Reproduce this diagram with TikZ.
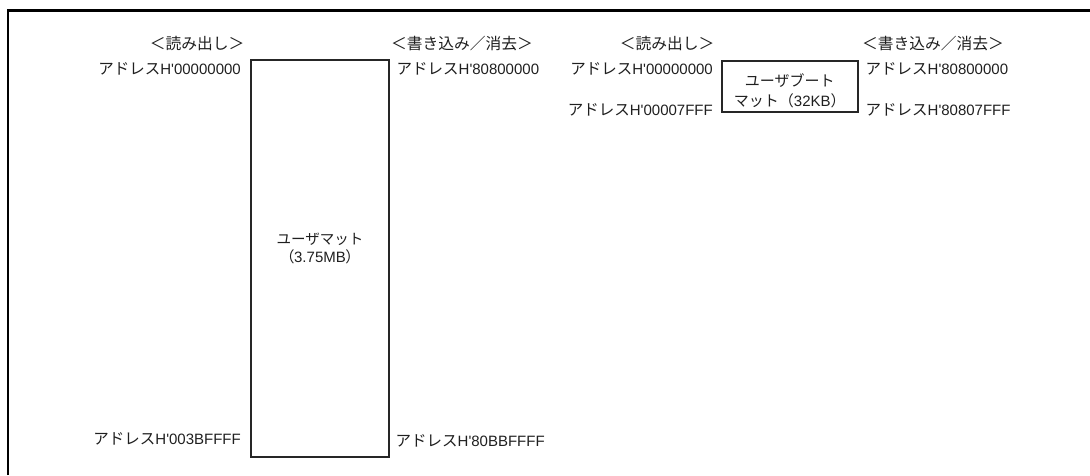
\documentclass[tikz,border=0pt]{standalone}
\usepackage{fontspec}
\setmainfont{Liberation Sans}
\newfontfamily\jp[Scale=1.033]{Noto Sans CJK JP}
\newfontfamily\jpp[RawFeature=+palt,Scale=1.0]{Noto Sans CJK JP}
\newfontfamily\jpf[Scale=1.05]{Noto Sans CJK JP}
\newfontfamily\jpb[Scale=0.967]{Noto Sans CJK JP}
\newfontfamily\jpc[Scale=1.0]{Noto Sans CJK JP}
\newcommand{\adr}[1]{{\jp アドレス}H\textquotesingle #1}
\begin{document}
\begin{tikzpicture}[x=1pt,y=-1pt,
  lbl/.style={inner sep=0pt,text=black!88,font=\fontsize{15}{18}\selectfont},
  mem/.style={draw=black!85,line width=2.2pt,inner sep=0pt},
  memtext/.style={inner sep=0pt,align=center,text=black!88,font=\fontsize{15}{18}\selectfont}]
\useasboundingbox (0,0) rectangle (1090,475);
\draw[line width=2.2pt] (8,475) -- (8,10.5) -- (1090,10.5);
% left map
\node[mem,minimum width=138.6pt,minimum height=396.7pt] (um) at (320,258.3) {};
\node[memtext] (umt) at ([yshift=10pt]um.center) {{\jpb ユーザマット}\\[0pt]{\jpp （}3.75MB{\jpp ）}};
\node[lbl] (rh1) at (197,43.5) {\jpf ＜読み出し＞};
\node[lbl] (wh1) at (462,43.5) {\jpf ＜書き込み／消去＞};
\node[lbl,anchor=east] (ra1) at (241,69.3) {\adr{00000000}};
\node[lbl,anchor=west] (wa1) at (396.5,69.3) {\adr{80800000}};
\node[lbl,anchor=east] (rb1) at (241,439) {\adr{003BFFFF}};
\node[lbl,anchor=west] (wb1) at (395.5,441) {\adr{80BBFFFF}};
% right map
\node[mem,minimum width=136.3pt,minimum height=51pt] (ub) at (789.8,86.2) {};
\node[memtext] (ubt) at ([yshift=-4.5pt]ub.center) {{\jpc ユーザブート}\\[2pt]{\jpc マット（}32KB{\jpc ）}};
\node[lbl] (rh2) at (667,43.5) {\jpf ＜読み出し＞};
\node[lbl] (wh2) at (933,43.5) {\jpf ＜書き込み／消去＞};
\node[lbl,anchor=east] (ra2) at (713,69.3) {\adr{00000000}};
\node[lbl,anchor=west] (wa2) at (865.5,69.3) {\adr{80800000}};
\node[lbl,anchor=east] (rb2) at (713,109.5) {\adr{00007FFF}};
\node[lbl,anchor=west] (wb2) at (865.5,110) {\adr{80807FFF}};
\end{tikzpicture}
\end{document}
